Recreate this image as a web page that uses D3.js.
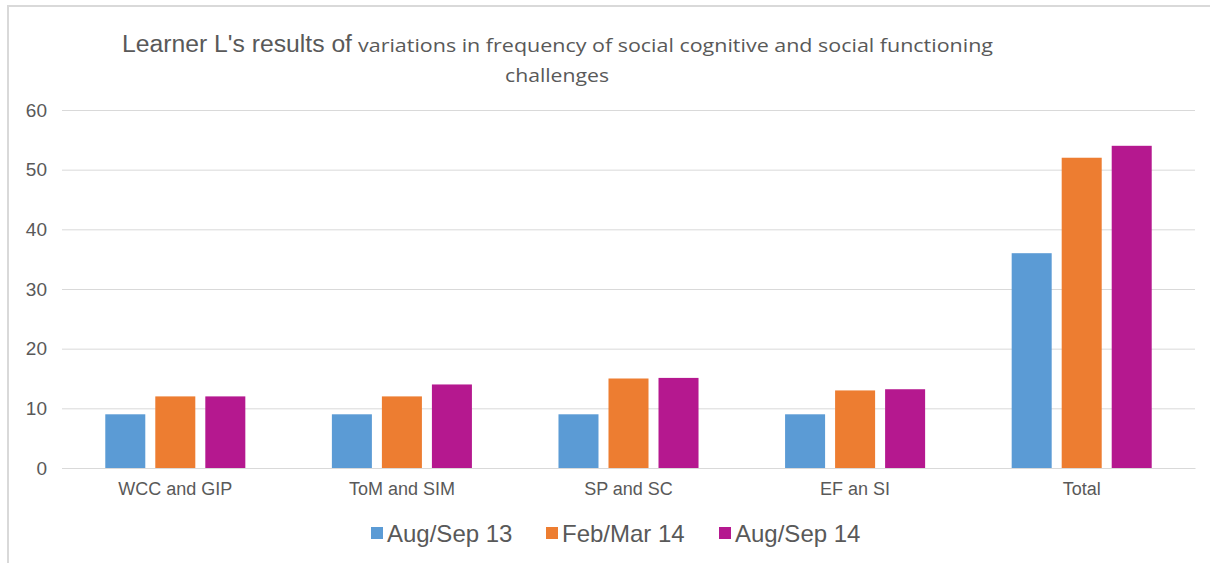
<!DOCTYPE html>
<html><head><meta charset="utf-8">
<script src="https://cdn.jsdelivr.net/npm/d3@7/dist/d3.min.js"></script>
<style>html,body{margin:0;padding:0;background:#fff;}svg{display:block;}</style>
</head><body>
<svg id="c" width="1210" height="563"></svg>
<script>
const categories = ["WCC and GIP", "ToM and SIM", "SP and SC", "EF an SI", "Total"];
const seriesNames = ["Aug/Sep 13", "Feb/Mar 14", "Aug/Sep 14"];
const augSep13 = [9, 9, 9, 9, 36];
const febMar14 = [12, 12, 15, 13, 52];
const augSep14 = [12, 14, 15.1, 13.2, 54];
const yTicks = [0, 10, 20, 30, 40, 50, 60];
const colors = ["#5b9bd5", "#ed7d31", "#b5188f"];

(function () {
const series = [augSep13, febMar14, augSep14];
const svg = d3.select("#c");

// frame
svg.append("path").attr("d", "M8,563 V6 H1210").attr("fill", "none")
  .attr("stroke", "#d9d9d9").attr("stroke-width", 2);

const mLeft = 62, mRight = 1195, mTop = 110, mBottom = 468;
const y = d3.scaleLinear().domain([0, 60]).range([mBottom, mTop]);
const x0 = d3.scaleBand().domain(categories).range([mLeft, mRight]).paddingInner(0.382).paddingOuter(0.191);
const x1 = d3.scaleBand().domain(d3.range(3)).range([0, x0.bandwidth()]).paddingInner(0.2).paddingOuter(0);

// gridlines
const yAxis = d3.axisLeft(y).tickValues(yTicks).tickSize(-(mRight - mLeft)).tickPadding(15);
const ga = svg.append("g").attr("transform", `translate(${mLeft},0)`).call(yAxis);
ga.select(".domain").remove();
ga.selectAll(".tick line").attr("stroke", "#d9d9d9").attr("stroke-width", 1);
ga.selectAll(".tick text").attr("fill", "#595959").attr("font-family", "Liberation Sans, Arial, sans-serif").attr("font-size", 19);

// bars
const groups = svg.append("g").selectAll("g").data(categories).join("g")
  .attr("transform", d => `translate(${x0(d)},0)`);
groups.selectAll("rect").data((d, i) => series.map((s, j) => ({j, v: s[i]}))).join("rect")
  .attr("x", d => x1(d.j)).attr("width", x1.bandwidth())
  .attr("y", d => y(d.v)).attr("height", d => y(0) - y(d.v))
  .attr("fill", d => colors[d.j]);

// x axis
const xAxis = d3.axisBottom(x0).tickSize(0).tickPadding(14);
const gx = svg.append("g").attr("transform", `translate(0,${mBottom})`).call(xAxis);
gx.select(".domain").attr("stroke", "#d9d9d9");
gx.selectAll(".tick text").attr("fill", "#595959").attr("font-family", "Liberation Sans, Arial, sans-serif").attr("font-size", 18);

// title
svg.append("text").attr("x", 122).attr("y", 52).attr("fill", "#595959")
  .attr("font-family", "Liberation Sans, Arial, sans-serif").attr("font-size", 23).attr("textLength", 230).attr("lengthAdjust", "spacingAndGlyphs")
  .text("Learner L's results of");
svg.append("text").attr("x", 358).attr("y", 52).attr("fill", "#595959")
  .attr("font-family", "Open Sans, sans-serif").attr("font-size", 18).attr("textLength", 635).attr("lengthAdjust", "spacingAndGlyphs")
  .text("variations in frequency of social cognitive and social functioning");
svg.append("text").attr("x", 557).attr("y", 82).attr("text-anchor", "middle").attr("fill", "#595959")
  .attr("font-family", "Open Sans, sans-serif").attr("font-size", 18).attr("textLength", 104).attr("lengthAdjust", "spacingAndGlyphs").text("challenges");

// legend
const legendX = [371, 546, 719];
const lg = svg.append("g").selectAll("g").data(seriesNames).join("g")
  .attr("transform", (d, i) => `translate(${legendX[i]},0)`);
lg.append("rect").attr("x", 0).attr("y", 527).attr("width", 12).attr("height", 12).attr("fill", (d, i) => colors[i]);
lg.append("text").attr("x", 16).attr("y", 542).attr("fill", "#595959")
  .attr("font-family", "Liberation Sans, Arial, sans-serif").attr("font-size", 24).text(d => d);
})();
</script>
</body></html>
